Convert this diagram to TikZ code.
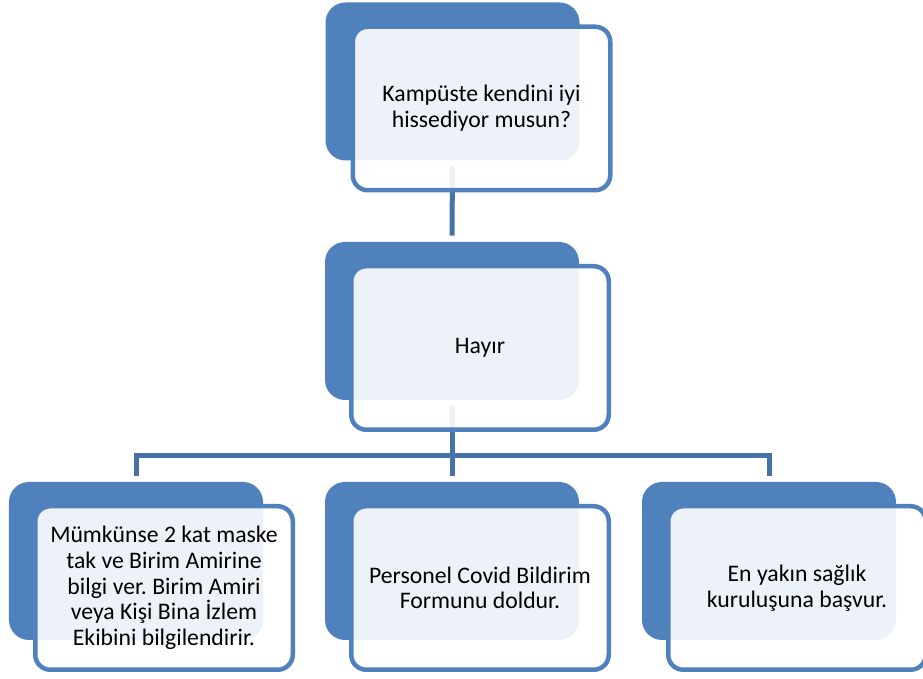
\documentclass[tikz,border=0pt]{standalone}
\usepackage{fontspec}
\setmainfont{Carlito}
\usepackage{xcolor}
\usepackage{tikz}
\frenchspacing

\definecolor{boxblue}{HTML}{4F81BD}
\definecolor{linkblue}{HTML}{4672AA}

\begin{document}
\begin{tikzpicture}[font=\fontsize{13.5}{14.6}\selectfont,
    back/.style={rectangle, rounded corners=0.4cm, fill=boxblue, minimum width=5.08cm, minimum height=3.16cm},
    front/.style={rectangle, rounded corners=0.3cm, draw=boxblue, line width=0.09cm, fill=white, fill opacity=0.9, text opacity=1, minimum width=5.15cm, minimum height=3.27cm, align=center},
    link/.style={draw=linkblue, line width=0.1cm}]

    \useasboundingbox (0,0) rectangle (18.46,-13.58);

    \node[back] (topB) at (9.05,-1.63) {};
    \node[back] (midB) at (9.04,-6.42) {};
    \node[back] (leftB) at (2.72,-11.22) {};
    \node[back] (bmidB) at (9.04,-11.22) {};
    \node[back] (rightB) at (15.38,-11.22) {};

    %------------------------------------------------

    \coordinate (fork) at ([yshift=-1.1cm]midB.south);

    \draw[link] ([yshift=-0.1cm]topB.south) -- ([yshift=0.12cm]midB.north);
    \draw[link] ([yshift=-0.1cm]midB.south) -- (fork);
    \draw[link] (fork) -| ([yshift=0.12cm]leftB.north);
    \draw[link] (fork) -| ([yshift=0.12cm]rightB.north);
    \draw[link] (fork) -- ([yshift=0.12cm]bmidB.north);

    %------------------------------------------------

    \node[front] (top) at ([shift={(0.58,-0.54)}]topB.center)
    {Kampüste kendini iyi\\hissediyor musun?};

    \node[front] (mid) at ([shift={(0.56,-0.54)}]midB.center)
    {Hayır};

    \node[front] (left) at ([shift={(0.56,-0.54)}]leftB.center)
    {Mümkünse 2 kat maske\\tak ve Birim Amirine\\bilgi ver. Birim Amiri\\veya Kişi Bina İzlem\\Ekibini bilgilendirir.};

    \node[front] (bmid) at ([shift={(0.56,-0.54)}]bmidB.center)
    {Personel Covid Bildirim\\Formunu doldur.};

    \node[front] (right) at ([shift={(0.56,-0.54)}]rightB.center)
    {En yakın sağlık\\kuruluşuna başvur.};
\end{tikzpicture}
\end{document}
